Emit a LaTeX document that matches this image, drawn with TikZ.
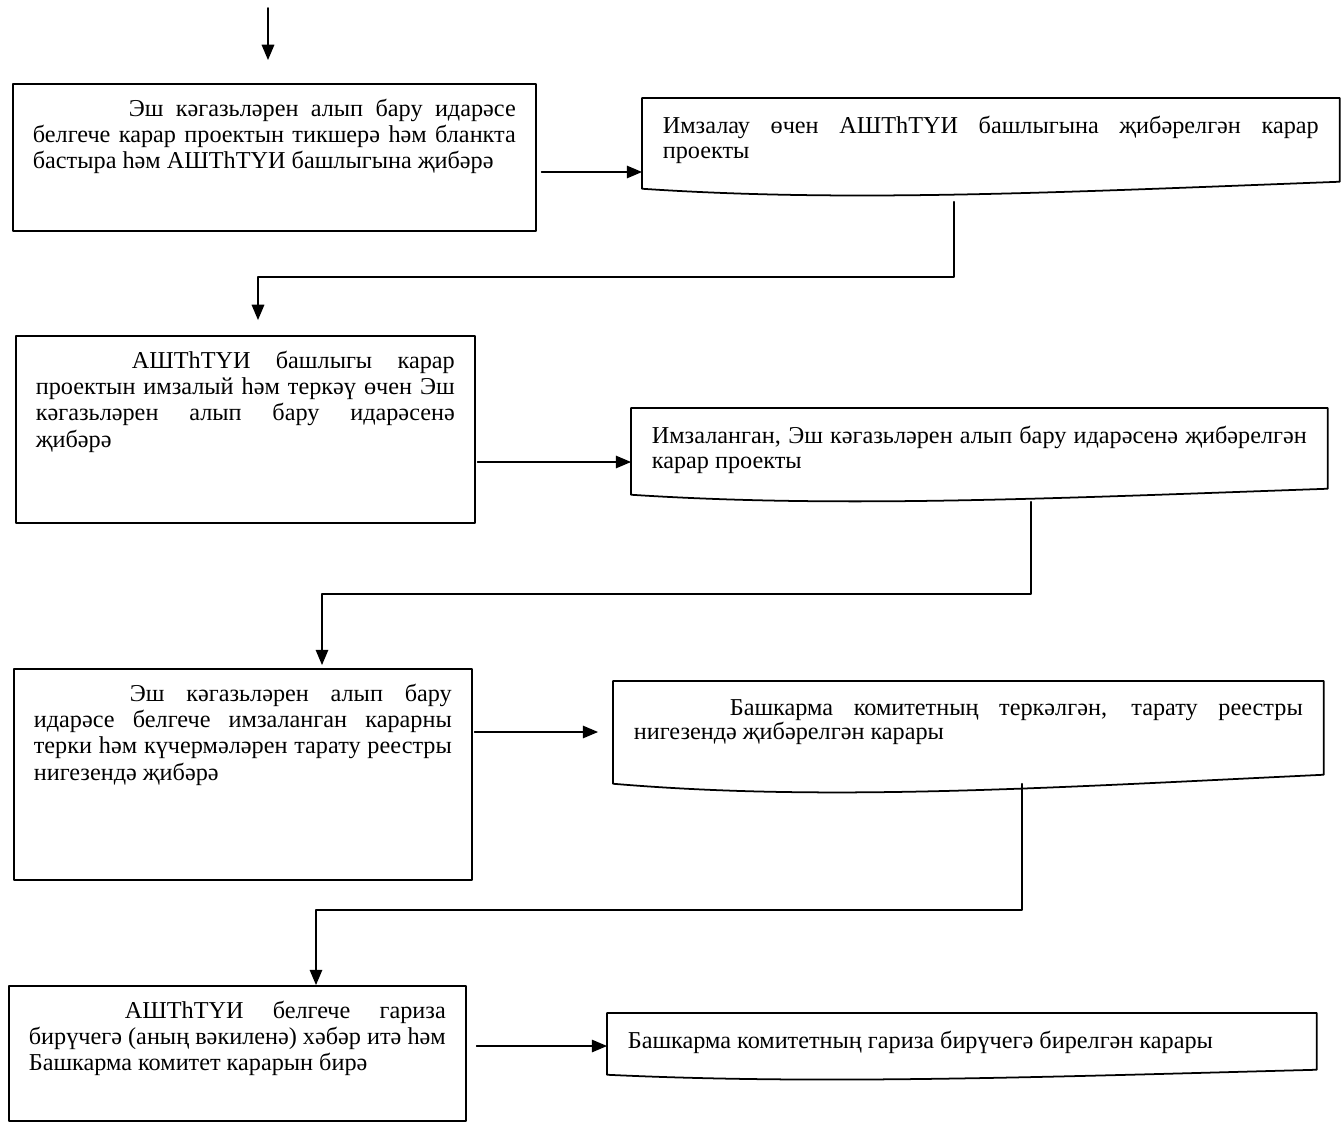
\documentclass[tikz,border=0pt]{standalone}
\usepackage{fontspec}
\setmainfont{Liberation Serif}
\usetikzlibrary{arrows,calc}

% text block of a step: width, height, text
\newcommand{\stepbody}[3]{\parbox[t][#2][t]{#1}{\fontsize{13.8}{15}\selectfont #3}}
\newcommand{\docbody}[3]{\parbox[t][#2][t]{#1}{\fontsize{13.8}{14}\selectfont #3}}
% outline of a document box: node, drop of left corner, dip of the wave
\newcommand{\docoutline}[3]{%
  \draw (#1.north west) -- (#1.north east) -- (#1.south east)
    .. controls ($(#1.south east)!0.4!(#1.south west)+(0,#3*0.75)$) and ($(#1.south east)!0.7!(#1.south west)+(0,#3*1.5)$) .. ($(#1.south west)+(0,#2)$) -- cycle;}

\tikzset{
  procbox/.style={draw, anchor=north west, inner xsep=0.4cm, inner ysep=0.3cm},
  docbox/.style={anchor=north west, inner xsep=0.4cm, inner ysep=0.35cm},
}

\begin{document}
\begin{tikzpicture}[line cap=round,line join=round,>=triangle 45,x=0.02cm,y=-0.02cm,line width=1pt]
    \useasboundingbox (0,0) rectangle (1341,1122);
    % left column
    \node[procbox] (b1) at (12,83) {\stepbody{9.66cm}{2.34cm}{\hspace*{1.92cm}Эш кәгазьләрен алып бару идарәсе\linebreak белгече карар проектын тикшерә һәм бланкта\linebreak бастыра һәм АШТһТҮИ башлыгына җибәрә}};
    \node[procbox] (b2) at (15,335) {\stepbody{8.38cm}{3.14cm}{\hspace*{1.92cm}АШТһТҮИ башлыгы карар\linebreak проектын имзалый һәм теркәү өчен Эш\linebreak кәгазьләрен алып бару идарәсенә\linebreak җибәрә}};
    \node[procbox] (b3) at (13,668) {\stepbody{8.36cm}{3.62cm}{\hspace*{1.92cm}Эш кәгазьләрен алып бару\linebreak идарәсе белгече имзаланган карарны\linebreak терки һәм күчермәләрен тарату реестры\linebreak нигезендә җибәрә}};
    \node[procbox] (b4) at (8,985) {\stepbody{8.34cm}{2.1cm}{\hspace*{1.92cm}АШТһТҮИ белгече гариза\linebreak бирүчегә (аның вәкиленә) хәбәр итә һәм\linebreak Башкарма комитет карарын бирә}};
    % right column
    \node[docbox] (d1) at (642,98) {\docbody{13.12cm}{0.94cm}{Имзалау өчен АШТһТҮИ башлыгына җибәрелгән карар\linebreak проекты}};
    \node[docbox] (d2) at (631,408) {\docbody{13.1cm}{0.88cm}{Имзаланган, Эш кәгазьләрен алып бару идарәсенә җибәрелгән\linebreak карар проекты}};
    \node[docbox] (d3) at (613,681) {\docbody{13.38cm}{1.14cm}{\hspace*{1.92cm}Башкарма комитетның теркәлгән, тарату реестры\linebreak нигезендә җибәрелгән карары}};
    \node[docbox] (d4) at (607,1013) {\docbody{13.36cm}{0.4cm}{Башкарма комитетның гариза бирүчегә бирелгән карары}};
    \docoutline{d1}{7}{14}
    \docoutline{d2}{6}{13}
    \docoutline{d3}{9}{18}
    \docoutline{d4}{5}{10}
    % connectors
    \coordinate (entry) at (268,8);
    \draw[->] (entry) -- ($(entry |- b1.north)+(0,-23)$);
    \coordinate (s1) at ($(b1.north east)+(5,89)$);
    \draw[->] (s1) -- (s1 -| d1.west);
    \coordinate (c1) at ($(d1.south west)!0.447!(d1.south east)+(0,20)$);
    \coordinate (t2) at ($(b2.north west)+(243,-15)$);
    \draw[->] (c1) -- ++(0,75) -| (t2);
    \coordinate (s2) at ($(b2.north east)+(2,127)$);
    \draw[->] (s2) -- (s2 -| d2.west);
    \coordinate (c2) at ($(d2.south west)!0.574!(d2.south east)+(0,13)$);
    \coordinate (t3) at ($(b3.north west)+(309,-3)$);
    \draw[->] (c2) -- ++(0,92) -| (t3);
    \coordinate (s3) at ($(b3.north east)+(2,64)$);
    \draw[->] (s3) -- ($(s3 -| d3.west)+(-15,0)$);
    \coordinate (c3) at ($(d3.south west)!0.576!(d3.south east)+(0,9)$);
    \coordinate (t4) at ($(b4.north west)+(308,0)$);
    \draw[->] (c3) -- ++(0,126) -| (t4);
    \coordinate (s4) at ($(b4.north east)+(10,61)$);
    \draw[->] (s4) -- (s4 -| d4.west);
\end{tikzpicture}
\end{document}
